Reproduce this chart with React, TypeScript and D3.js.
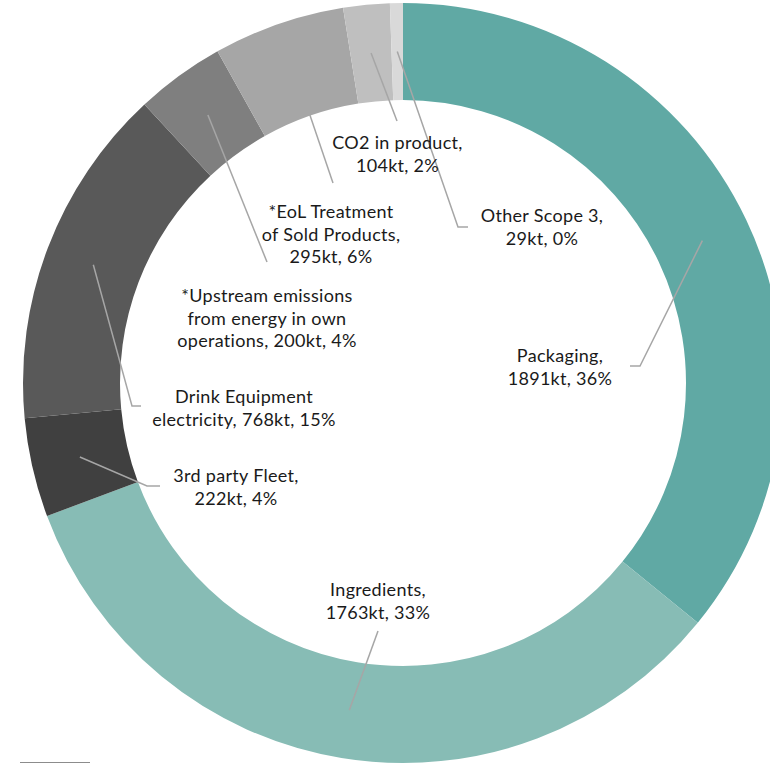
import React from "react";
import * as d3 from "d3";

const categories = [
  "Packaging",
  "Ingredients",
  "3rd party Fleet",
  "Drink Equipment electricity",
  "Upstream emissions from energy in own operations",
  "EoL Treatment of Sold Products",
  "CO2 in product",
  "Other Scope 3",
];
const values = [1891, 1763, 222, 768, 200, 295, 104, 29];
const labelLines: string[][] = [
  ["Packaging,", "1891kt, 36%"],
  ["Ingredients,", "1763kt, 33%"],
  ["3rd party Fleet,", "222kt, 4%"],
  ["Drink Equipment", "electricity, 768kt, 15%"],
  ["*Upstream emissions", "from energy in own", "operations, 200kt, 4%"],
  ["*EoL Treatment", "of Sold Products,", "295kt, 6%"],
  ["CO2 in product,", "104kt, 2%"],
  ["Other Scope 3,", "29kt, 0%"],
];

const colors = ["#60a9a4", "#87bcb5", "#404040", "#595959", "#7f7f7f", "#a6a6a6", "#bfbfbf", "#d9d9d9"];

// label layout: text centre x, first baseline y, leader path points (after start), start radius kind
const layout = [
  { x: 560, y: 362, pts: [[640, 366], [630, 366]], start: "mid" },
  { x: 378, y: 596, pts: [[378, 631]], start: "mid" },
  { x: 236, y: 482, pts: [[147, 486], [160, 486]], start: "mid" },
  { x: 244, y: 403, pts: [[132, 406], [141, 406]], start: "mid" },
  { x: 267, y: 302, pts: [[267, 262]], start: "mid" },
  { x: 331, y: 218, pts: [[333, 183]], start: "inner" },
  { x: 397.5, y: 149, pts: [[397, 121]], start: "mid" },
  { x: 542, y: 222, pts: [[458, 227], [468, 227]], start: "mid" },
];

const W = 770;
const H = 764;
const cx = 403;
const cy = 383;
const rOuter = 380;
const rInner = 283;

export default function App() {
  const pie = d3
    .pie<number>()
    .sort(null)
    .value((d) => d)
    .startAngle(0)
    .endAngle(2 * Math.PI);
  const arcs = pie(values);
  const arc = d3.arc<d3.PieArcDatum<number>>().innerRadius(rInner).outerRadius(rOuter);
  const line = d3.line();

  return (
    <svg
      width={W}
      height={H}
      style={{ position: "absolute", left: 0, top: 0, background: "#fff" }}
      fontFamily="Lato, 'Noto Sans', sans-serif"
    >
      <g transform={`translate(${cx},${cy})`}>
        {arcs.map((a, i) => (
          <path key={categories[i]} d={arc(a) || ""} fill={colors[i]} />
        ))}
      </g>
      {arcs.map((a, i) => {
        const l = layout[i];
        const mid = (a.startAngle + a.endAngle) / 2;
        const r = l.start === "inner" ? rInner + 1 : (rInner + rOuter) / 2;
        const sx = cx + r * Math.sin(mid);
        const sy = cy - r * Math.cos(mid);
        const pts: [number, number][] = [[sx, sy], ...(l.pts as [number, number][])];
        return (
          <path
            key={"l" + i}
            d={line(pts) || ""}
            fill="none"
            stroke="#a6a6a6"
            strokeWidth={1.5}
          />
        );
      })}
      {labelLines.map((lines, i) => (
        <text
          key={"t" + i}
          x={layout[i].x}
          y={layout[i].y}
          textAnchor="middle"
          fontSize={18}
          letterSpacing={0.3}
          fill="#1a1a1a"
        >
          {lines.map((s, j) => (
            <tspan key={j} x={layout[i].x} dy={j === 0 ? 0 : 22.7}>
              {s}
            </tspan>
          ))}
        </text>
      ))}
      <line x1={20} x2={90} y1={762.5} y2={762.5} stroke="#8c8c8c" strokeWidth={1} />
    </svg>
  );
}
